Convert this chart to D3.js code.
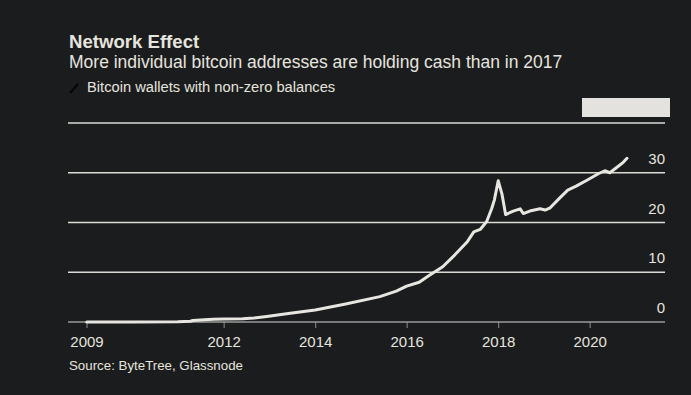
<!DOCTYPE html>
<html>
<head>
<meta charset="utf-8">
<script src="https://cdn.jsdelivr.net/npm/d3@7"></script>
<style>
  html, body { margin: 0; padding: 0; background: #1b1c1e; }
  svg { display: block; }
  text { font-family: "Liberation Sans", Arial, sans-serif; fill: #e6e4df; }
</style>
</head>
<body>
<svg id="chart" width="691" height="395"></svg>
<script>
const titleText = "Network Effect";
const subtitleText = "More individual bitcoin addresses are holding cash than in 2017";
const legendText = "Bitcoin wallets with non-zero balances";
const sourceText = "Source: ByteTree, Glassnode";

const dates = [
  "2009-01-03","2010-01-01","2011-01-01","2011-04-10","2011-05-01","2011-08-01","2011-10-10",
  "2012-01-01","2012-06-01","2012-09-01","2012-12-10","2013-06-01","2014-01-01","2014-09-01",
  "2015-06-01","2015-10-10","2016-01-01","2016-04-10","2016-07-01","2016-10-15","2017-01-20",
  "2017-05-01","2017-06-20","2017-08-10","2017-10-01","2017-11-10","2017-12-01","2018-01-01",
  "2018-02-01","2018-03-01","2018-05-01","2018-06-25","2018-07-20","2018-09-10","2018-12-01",
  "2019-01-10","2019-02-20","2019-05-10","2019-07-10","2019-09-15","2019-12-10","2020-03-10",
  "2020-05-01","2020-06-10","2020-08-01","2020-09-25","2020-10-25"
];
const wallets = [
  0, 0, 0.05, 0.15, 0.3, 0.45, 0.55,
  0.6, 0.65, 0.8, 1.1, 1.7, 2.4, 3.6,
  5.1, 6.2, 7.2, 8.0, 9.4, 11.1, 13.5,
  16.2, 18.1, 18.6, 20.2, 22.8, 24.5, 28.4,
  25.6, 21.6, 22.3, 22.75, 21.8, 22.3, 22.75,
  22.5, 22.95, 25.0, 26.5, 27.3, 28.5, 29.8,
  30.4, 30.0, 31.0, 32.1, 32.9
];
const yTicks = [0, 10, 20, 30];
const gridValues = [0, 10, 20, 30, 40];
const xTickYears = [2009, 2012, 2014, 2016, 2018, 2020];

const parse = d3.timeParse("%Y-%m-%d");
const data = dates.map((d, i) => ({ date: parse(d), value: wallets[i] }));

const svg = d3.select("#chart");
const plotLeft = 68, plotRight = 665;

const x = d3.scaleTime()
  .domain([new Date(2009, 0, 1), new Date(2021, 0, 1)])
  .range([86.5, 635.5]);
const y = d3.scaleLinear().domain([0, 40]).range([322, 123]);

// titles
svg.append("text").attr("x", 69).attr("y", 48)
  .style("font-weight", "bold").style("font-size", "18.6px").text(titleText);
svg.append("text").attr("x", 69).attr("y", 68)
  .style("font-size", "17.5px").text(subtitleText);

// legend
svg.append("line").attr("x1", 70).attr("y1", 93).attr("x2", 78).attr("y2", 84)
  .attr("stroke", "#050505").attr("stroke-width", 2);
svg.append("text").attr("x", 87).attr("y", 92)
  .style("font-size", "14.7px").text(legendText);

// box at top right
svg.append("rect").attr("x", 582).attr("y", 98).attr("width", 88).attr("height", 19)
  .attr("fill", "#e4e2de");

// gridlines
svg.append("g").selectAll("line").data(gridValues.filter(v => v > 0)).join("line")
  .attr("x1", plotLeft).attr("x2", plotRight)
  .attr("y1", d => y(d)).attr("y2", d => y(d))
  .attr("stroke", "#dcdad5").attr("stroke-width", 1.5);

// y labels
svg.append("g").selectAll("text").data(yTicks).join("text")
  .attr("x", plotRight).attr("y", d => y(d) - 9)
  .attr("text-anchor", "end").style("font-size", "15px")
  .text(d => d);

// x axis
const xAxis = d3.axisBottom(x)
  .tickValues(xTickYears.map(yr => new Date(yr, 0, 1)))
  .tickFormat(d3.timeFormat("%Y"))
  .tickSize(6).tickSizeOuter(0);
const gx = svg.append("g").attr("transform", `translate(0,${y(0)})`).call(xAxis);
gx.select(".domain").remove();
gx.selectAll(".tick line").attr("stroke", "#8d8d8d").attr("stroke-width", 1);
gx.selectAll(".tick text").attr("y", 15).attr("dy", 0)
  .style("font-size", "15px").style("fill", "#e6e4df")
  .style("font-family", "'Liberation Sans', Arial, sans-serif")
  .attr("dominant-baseline", "auto").attr("transform", "translate(0,10)");
svg.append("line").attr("x1", plotLeft).attr("x2", plotRight)
  .attr("y1", y(0)).attr("y2", y(0))
  .attr("stroke", "#9a9a9a").attr("stroke-width", 1.5);

// line
const line = d3.line().x(d => x(d.date)).y(d => y(d.value)).curve(d3.curveLinear);
svg.append("path").datum(data).attr("d", line)
  .attr("fill", "none").attr("stroke", "#e8e6e1").attr("stroke-width", 3)
  .attr("stroke-linejoin", "round").attr("stroke-linecap", "round");

// source
svg.append("text").attr("x", 69).attr("y", 370)
  .style("font-size", "13.3px").text(sourceText);
</script>
</body>
</html>
